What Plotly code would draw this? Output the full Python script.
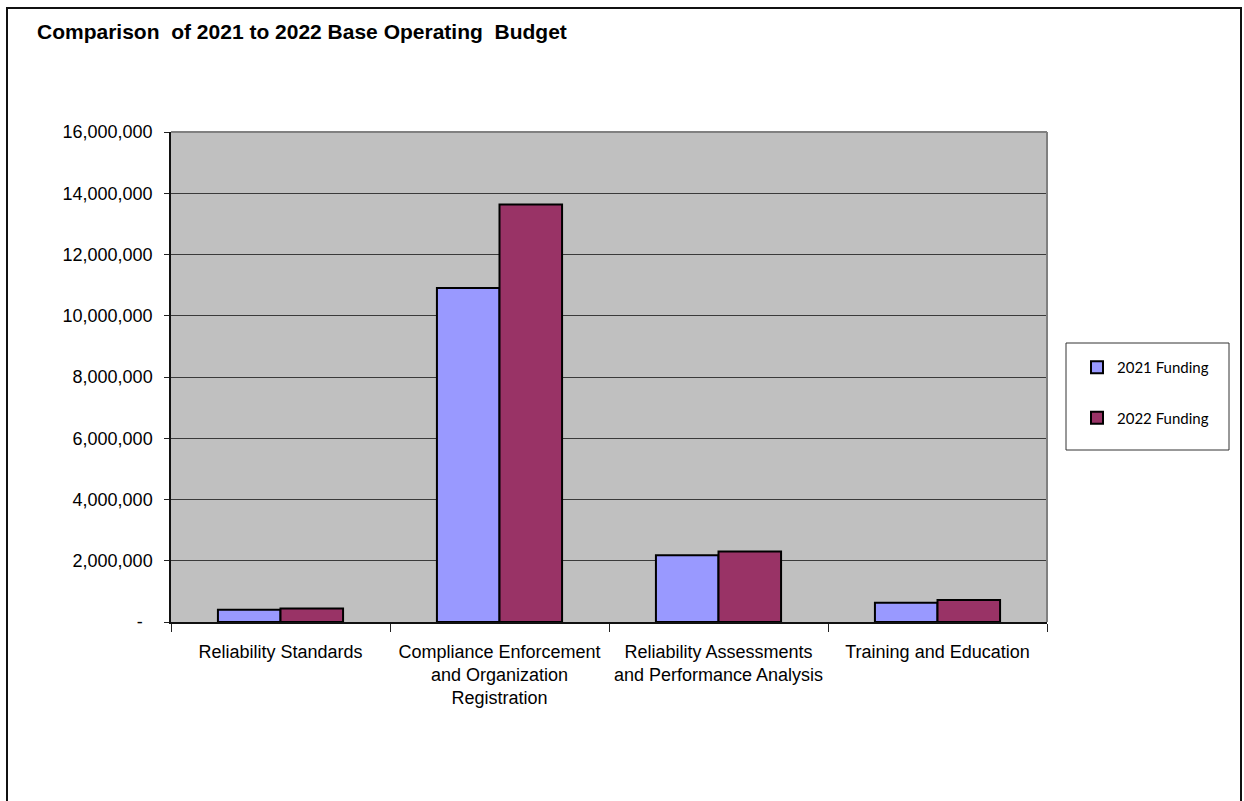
import plotly.graph_objects as go

categories = [
    "Reliability Standards",
    "Compliance Enforcement<br>and Organization<br>Registration",
    "Reliability Assessments<br>and Performance Analysis",
    "Training and Education",
]
funding_2021 = [400000, 10910000, 2180000, 630000]
funding_2022 = [440000, 13630000, 2300000, 720000]
series_names = ["2021 Funding", "2022 Funding"]
y_tick_values = [0, 2000000, 4000000, 6000000, 8000000, 10000000, 12000000, 14000000, 16000000]
y_tick_labels = ["-\u00a0\u00a0", "2,000,000", "4,000,000", "6,000,000", "8,000,000",
                 "10,000,000", "12,000,000", "14,000,000", "16,000,000"]
title_text = "Comparison&nbsp; of 2021 to 2022 Base Operating&nbsp; Budget"

FONT = "Liberation Sans, Arial, sans-serif"

W, H = 1244, 801
L, R, T, B = 171, 1047, 132, 622
pw, ph = R - L, B - T

def px2x(px):
    return (px - L) / pw

def px2y(py):
    return (B - py) / ph

fig = go.Figure()
fig.add_trace(go.Bar(
    x=categories, y=funding_2021, name=series_names[0], legendgroup="a",
    marker=dict(color="#9999FF", line=dict(color="black", width=2)),
))
fig.add_trace(go.Bar(
    x=categories, y=funding_2022, name=series_names[1], legendgroup="b",
    marker=dict(color="#993366", line=dict(color="black", width=2)),
))

shapes = [
    # outer chart border
    dict(type="rect", xref="paper", yref="paper", x0=px2x(7), x1=px2x(1241), y0=px2y(900), y1=px2y(8),
         line=dict(color="#111111", width=2), fillcolor="rgba(0,0,0,0)", layer="below"),
    # plot area top / right border (gray)
    dict(type="line", xref="paper", yref="paper", x0=0, x1=1, y0=1, y1=1,
         line=dict(color="#808080", width=2), layer="above"),
    dict(type="line", xref="paper", yref="paper", x0=1, x1=1, y0=0, y1=1,
         line=dict(color="#808080", width=2), layer="above"),
    # legend box
    dict(type="rect", xref="paper", yref="paper", x0=px2x(1066), x1=px2x(1229), y0=px2y(450), y1=px2y(343),
         line=dict(color="#333333", width=1), fillcolor="white", layer="below"),
]

fig.update_layout(
    width=W, height=H,
    margin=dict(l=L, r=W - R, t=T, b=H - B, pad=0),
    paper_bgcolor="white",
    plot_bgcolor="#C0C0C0",
    barmode="group",
    bargap=0.4286,
    bargroupgap=0,
    title=dict(text=title_text, x=37 / W, xanchor="left", xref="container",
               y=1 - 32 / H, yanchor="middle", yref="container",
               font=dict(family=FONT, size=21, color="black", weight="bold")),
    showlegend=True,
    legend=dict(x=px2x(1077), xanchor="left", y=px2y(351), yanchor="top",
                bgcolor="rgba(0,0,0,0)", borderwidth=0, tracegroupgap=28,
                font=dict(family="Lato, Calibri, Carlito, sans-serif", size=15, color="black")),
    shapes=shapes,
    xaxis=dict(
        type="category", tickson="boundaries", ticks="outside", ticklen=8, tickcolor="#222222",
        tickwidth=1, showline=True, linecolor="#111111", linewidth=2, showgrid=False,
        tickangle=0,
        tickfont=dict(family=FONT, size=18, color="black"), ticklabelstandoff=12,
    ),
    yaxis=dict(
        range=[0, 16000000], tickvals=y_tick_values, ticktext=y_tick_labels,
        ticks="outside", ticklen=5, tickcolor="#222222", tickwidth=1,
        showline=True, linecolor="#111111", linewidth=1.5,
        showgrid=True, gridcolor="#3a3a3a", gridwidth=1, zeroline=False,
        tickfont=dict(family=FONT, size=18, color="black"), ticklabelstandoff=8,
    ),
)

fig.write_html("out.html")
